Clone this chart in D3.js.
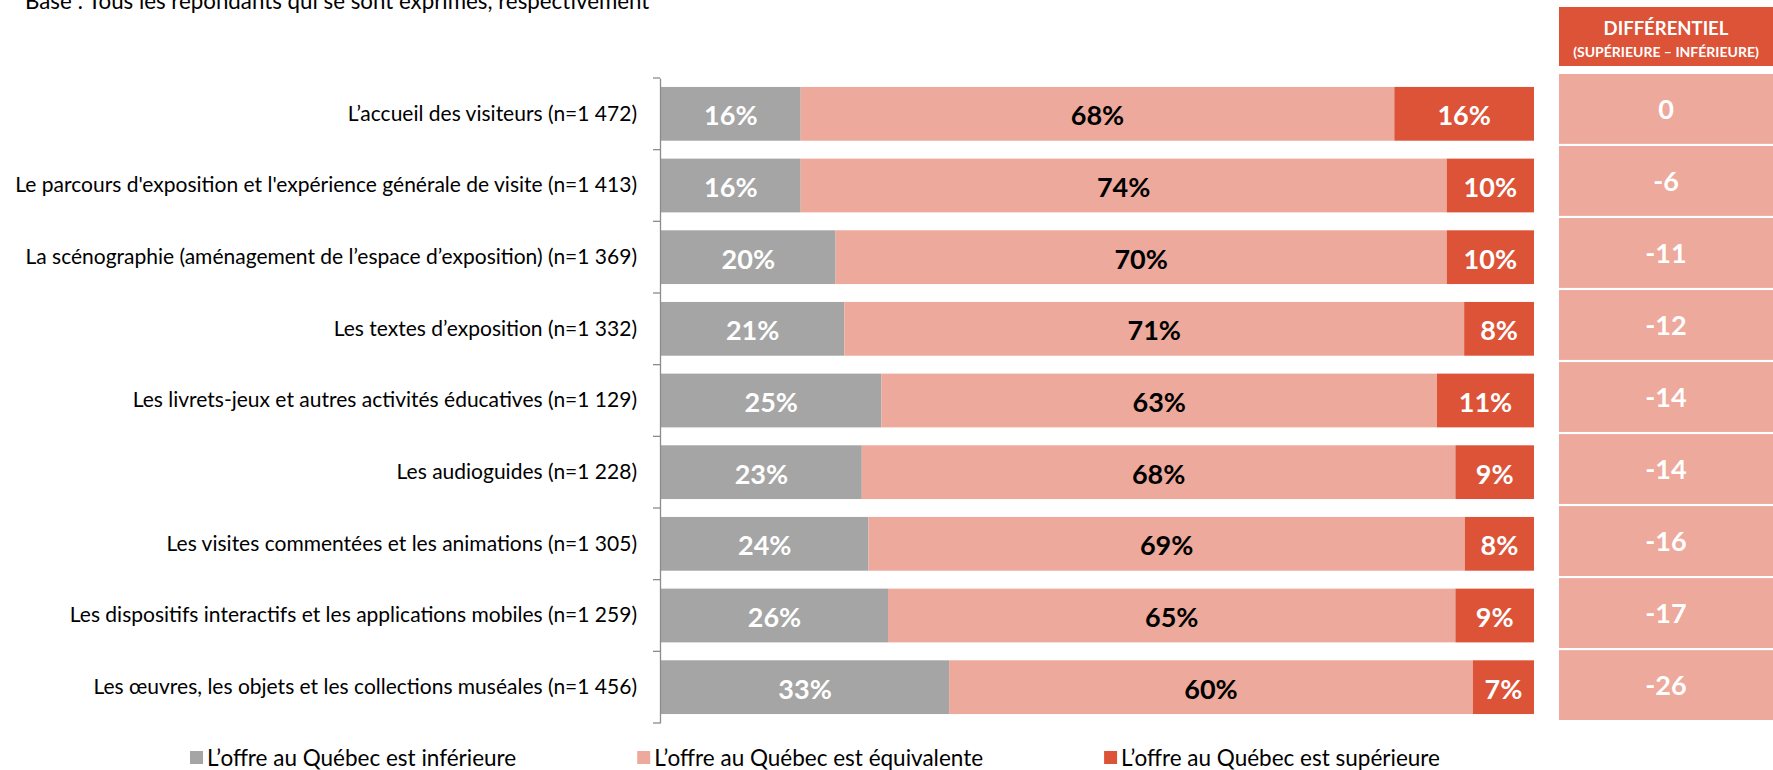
<!DOCTYPE html>
<html>
<head>
<meta charset="utf-8">
<script src="https://cdn.jsdelivr.net/npm/d3@7"></script>
<style>
  body { margin: 0; background: #fff; }
  svg { display: block; font-family: Lato, 'Open Sans', sans-serif; }
</style>
</head>
<body>
<div id="chart"></div>
<script>
const categories = [
  "L\u2019accueil des visiteurs (n=1 472)",
  "Le parcours d'exposition et l'exp\u00e9rience g\u00e9n\u00e9rale de visite (n=1 413)",
  "La sc\u00e9nographie (am\u00e9nagement de l\u2019espace d\u2019exposition) (n=1 369)",
  "Les textes d\u2019exposition (n=1 332)",
  "Les livrets-jeux et autres activit\u00e9s \u00e9ducatives (n=1 129)",
  "Les audioguides (n=1 228)",
  "Les visites comment\u00e9es et les animations (n=1 305)",
  "Les dispositifs interactifs et les applications mobiles (n=1 259)",
  "Les \u0153uvres, les objets et les collections mus\u00e9ales (n=1 456)"
];
const inferieure  = [16, 16, 20, 21, 25, 23, 24, 26, 33];
const equivalente = [68, 74, 70, 71, 63, 68, 69, 65, 60];
const superieure  = [16, 10, 10, 8, 11, 9, 8, 9, 7];
const differentiel = [0, -6, -11, -12, -14, -14, -16, -17, -26];

const seriesNames = [
  "L\u2019offre au Qu\u00e9bec est inf\u00e9rieure",
  "L\u2019offre au Qu\u00e9bec est \u00e9quivalente",
  "L\u2019offre au Qu\u00e9bec est sup\u00e9rieure"
];
const keys = ['inf', 'equ', 'sup'];
const colors = { inf: '#A5A5A5', equ: '#EDA99B', sup: '#DC5337' };
const labelColors = { inf: '#fff', equ: '#000', sup: '#fff' };

const w = 1773, h = 770;
const axisX = 660, barEnd = 1534;
const diffLeft = 1559;

const rows = categories.map((c, i) => ({ cat: c, inf: inferieure[i], equ: equivalente[i], sup: superieure[i], diff: differentiel[i] }));

const svg = d3.select('#chart').append('svg')
  .attr('width', w)
  .attr('height', h);

svg.append('text')
  .attr('x', 25)
  .attr('y', 9)
  .attr('font-size', 22.3)
  .attr('fill', '#000')
  .text('Base : Tous les r\u00e9pondants qui se sont exprim\u00e9s, respectivement');

const y = d3.scaleBand()
  .domain(categories)
  .range([78, 723])
  .paddingInner(0.25)
  .paddingOuter(0.125);

const x = d3.scaleLinear()
  .domain([0, 1])
  .range([axisX + 1, barEnd]);

// normalise each row to 100 %
const stack = d3.stack().keys(keys).offset(d3.stackOffsetExpand);
const stacked = stack(rows);

const layers = svg.selectAll('g.layer')
  .data(stacked)
  .enter()
  .append('g')
  .attr('class', 'layer')
  .attr('fill', d => colors[d.key]);

layers.selectAll('rect')
  .data(d => d)
  .enter()
  .append('rect')
  .attr('x', d => x(d[0]))
  .attr('y', d => y(d.data.cat))
  .attr('width', d => x(d[1]) - x(d[0]))
  .attr('height', y.bandwidth());

stacked.forEach(layer => {
  svg.append('g')
    .selectAll('text')
    .data(layer)
    .enter()
    .append('text')
    .attr('x', d => (x(d[0]) + x(d[1])) / 2)
    .attr('y', d => y(d.data.cat) + y.bandwidth() / 2)
    .attr('dy', '0.42em')
    .attr('text-anchor', 'middle')
    .attr('font-size', 27)
    .attr('font-weight', 'bold')
    .attr('fill', labelColors[layer.key])
    .text(d => d.data[layer.key] + '%');
});

// category axis
const yAxis = d3.axisLeft(y)
  .tickSize(0)
  .tickPadding(23);

const ax = svg.append('g')
  .attr('transform', 'translate(' + axisX + ',0)')
  .call(yAxis);
ax.select('.domain').attr('stroke', '#8c8c8c').attr('stroke-width', 1.3);
ax.selectAll('.tick text')
  .attr('font-size', 21)
  .attr('font-family', 'Lato, sans-serif')
  .attr('fill', '#000');

const boundaries = categories.map(c => y(c) - y.step() * y.paddingInner() / 2).concat([y.range()[1]]);
ax.selectAll('line.sep')
  .data(boundaries)
  .enter()
  .append('line')
  .attr('class', 'sep')
  .attr('x1', -7)
  .attr('x2', 0)
  .attr('y1', d => d)
  .attr('y2', d => d)
  .attr('stroke', '#8c8c8c')
  .attr('stroke-width', 1.3);

// differential column
svg.append('rect')
  .attr('x', diffLeft)
  .attr('y', 7)
  .attr('width', w - diffLeft)
  .attr('height', 59)
  .attr('fill', colors.sup);

svg.append('text')
  .attr('x', (diffLeft + w) / 2)
  .attr('y', 35)
  .attr('text-anchor', 'middle')
  .attr('font-size', 18.5)
  .attr('font-weight', 'bold')
  .attr('fill', '#fff')
  .text('DIFF\u00c9RENTIEL');

svg.append('text')
  .attr('x', (diffLeft + w) / 2)
  .attr('y', 57)
  .attr('text-anchor', 'middle')
  .attr('font-size', 14)
  .attr('font-weight', 'bold')
  .attr('fill', '#fff')
  .text('(SUP\u00c9RIEURE \u2013 INF\u00c9RIEURE)');

const yd = d3.scaleBand()
  .domain(categories)
  .range([74, 720])
  .paddingInner(0.03);

svg.selectAll('rect.diff')
  .data(rows)
  .enter()
  .append('rect')
  .attr('class', 'diff')
  .attr('x', diffLeft)
  .attr('y', d => yd(d.cat))
  .attr('width', w - diffLeft)
  .attr('height', yd.bandwidth())
  .attr('fill', colors.equ);

svg.selectAll('text.diff')
  .data(rows)
  .enter()
  .append('text')
  .attr('class', 'diff')
  .attr('x', (diffLeft + w) / 2)
  .attr('y', d => yd(d.cat) + yd.bandwidth() / 2)
  .attr('dy', '0.37em')
  .attr('text-anchor', 'middle')
  .attr('font-size', 27)
  .attr('font-weight', 'bold')
  .attr('fill', '#fff')
  .text(d => d.diff);

// legend
const legend = svg.append('g').attr('transform', 'translate(0,751)');
let lx = 190;
keys.forEach((k, i) => {
  const item = legend.append('g').attr('transform', 'translate(' + lx + ',0)');
  item.append('rect')
    .attr('width', 13)
    .attr('height', 13)
    .attr('fill', colors[k]);
  const t = item.append('text')
    .attr('x', 17)
    .attr('y', 15)
    .attr('font-size', 22.5)
    .attr('fill', '#000')
    .text(seriesNames[i]);
  lx += 17 + t.node().getComputedTextLength() + 121;
});
</script>
</body>
</html>
